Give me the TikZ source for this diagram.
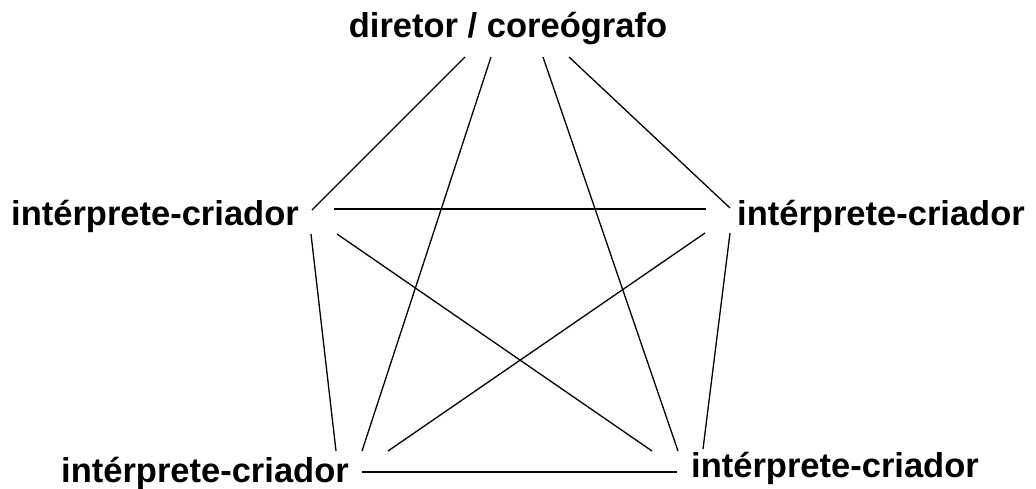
\documentclass[tikz,border=0pt]{standalone}
\usepackage{fontspec}
\setmainfont{Liberation Sans}
\begin{document}
\begin{tikzpicture}[x=1pt,y=-1pt,
  lbl/.style={font=\bfseries\fontsize{34.5}{40}\selectfont,anchor=base,inner sep=0pt},
  link/.style={line width=1.3pt,black}]
\useasboundingbox (0,0) rectangle (1036,488);
\node[lbl] (dir) at (508,37) {diretor / coreógrafo};
\node[lbl] (il) at (155,225) {intérprete-criador};
\node[lbl] (ir) at (881,225) {intérprete-criador};
\node[lbl] (bl) at (205,482) {intérprete-criador};
\node[lbl] (br) at (835,477) {intérprete-criador};
% endpoints near top
\coordinate (t1) at (465,57);
\coordinate (t2) at (491,57);
\coordinate (t3) at (543,57);
\coordinate (t4) at (569,57);
% endpoints near left
\coordinate (l1) at (312,210);
\coordinate (l2) at (334,209);
\coordinate (l3) at (311,234);
\coordinate (l4) at (337,234);
% endpoints near right
\coordinate (r1) at (730,208);
\coordinate (r2) at (706,209);
\coordinate (r3) at (705,233);
\coordinate (r4) at (730,233);
% endpoints near bottom left
\coordinate (b1) at (336,451);
\coordinate (b2) at (362,451);
\coordinate (b3) at (388,451);
\coordinate (b4) at (362,472);
% endpoints near bottom right
\coordinate (c1) at (652,451);
\coordinate (c2) at (678,451);
\coordinate (c3) at (703,449);
\coordinate (c4) at (677,472);
\draw[link] (t1) -- (l1);
\draw[link] (t2) -- (b2);
\draw[link] (t3) -- (c2);
\draw[link] (t4) -- (r1);
\draw[link] (l2) -- (r2);
\draw[link] (l3) -- (b1);
\draw[link] (l4) -- (c1);
\draw[link] (r3) -- (b3);
\draw[link] (r4) -- (c3);
\draw[link] (b4) -- (c4);
\end{tikzpicture}
\end{document}
